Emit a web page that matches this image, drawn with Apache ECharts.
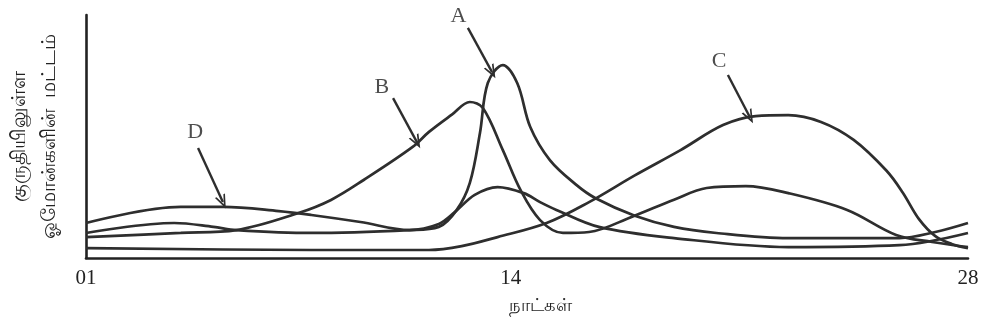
<!DOCTYPE html>
<html>
<head>
<meta charset="utf-8">
<script src="https://cdn.jsdelivr.net/npm/echarts@6/dist/echarts.min.js"></script>
<style>
  html, body { margin: 0; padding: 0; background: #fff; }
  #chart { width: 984px; height: 332px; }
</style>
</head>
<body>
<div id="chart"></div>
<script>
// 橫軸刻度 (日)
var tickDays = [1, 14, 28];
var tickLabels = ['01', '14', '28'];

// A 曲線
var daysA = [1, 3.7, 4.9, 5.6, 7.9, 10.9, 11.8, 12.35, 12.75, 13.06, 13.3, 13.76, 14.2, 14.6, 15.2, 16.0, 16.6, 17.8, 19.0, 20.3, 22.5, 25.9, 27.0, 28];
var levelA = [10.3, 14.4, 12.8, 11.5, 10.3, 11.5, 12.8, 19.8, 30.9, 51.4, 72, 79.4, 72, 53.9, 40.3, 30.2, 24.6, 17.4, 12.8, 10.3, 8.2, 8.2, 10.7, 14.4];

// B 曲線
var daysB = [1, 3.9, 5.6, 7.5, 8.5, 9.5, 11, 11.5, 12.2, 12.75, 13.15, 13.76, 14.3, 14.9, 15.6, 16.4, 17.7, 19, 20, 21.2, 22.5, 24.3, 25.8, 26.9, 28];
var levelB = [8.6, 10.3, 11.5, 18.5, 23.9, 32.1, 45.7, 51.9, 59, 64.2, 61.7, 44.4, 28, 15.6, 10.3, 10.7, 16.9, 24, 28.8, 29.6, 26.7, 19.8, 9.5, 6.6, 4.5];

// C 曲線
var daysC = [1, 7.9, 11.5, 12.5, 13.6, 15.1, 16.4, 17.8, 19.2, 20.5, 21.5, 22.5, 23.5, 24.5, 25.5, 26.0, 26.5, 27.0, 27.5, 28];
var levelC = [4.1, 3.3, 3.3, 4.9, 8.6, 14.4, 23, 34, 44.4, 54.7, 58.4, 58.8, 56, 48.6, 36, 27, 16, 9, 5.8, 4];

// D 曲線
var daysD = [1, 3.9, 5.2, 6.9, 7.9, 9.4, 10.9, 11.8, 12.3, 12.9, 13.6, 14.4, 14.9, 15.4, 16.7, 19, 22.5, 25.9, 28];
var levelD = [14.4, 21, 21, 19.3, 17.7, 14.8, 11.5, 14, 19, 26, 29.2, 26.7, 23, 19.8, 12.8, 8.2, 4.5, 5.3, 10.3];

// 字母標記與箭頭
var markNames = ['A', 'B', 'C', 'D'];
var markDays = [12.4, 10.06, 20.38, 4.34];
var markLevels = [99.4, 70.4, 81.1, 51.9];
var arrowFrom = [[12.69, 94.7], [10.4, 65.8], [20.65, 75.3], [4.43, 45.3]];
var arrowTo = [[13.43, 76.5], [11.13, 47.7], [21.32, 58], [5.19, 23]];

var lineColor = '#2e2e2e';
var serifFont = '"Liberation Serif", "DejaVu Serif", serif';

function zip(xs, ys) {
    return xs.map(function (x, i) { return [x, ys[i]]; });
}

function curve(name, xs, ys) {
    return {
        name: name,
        type: 'line',
        data: zip(xs, ys),
        smooth: 0.35,
        symbol: 'none',
        lineStyle: { color: lineColor, width: 2.7 },
        z: 3
    };
}

var chart = echarts.init(document.getElementById('chart'));

var option = {
    animation: false,
    backgroundColor: '#fff',
    grid: { left: 86, right: 16, top: 15, bottom: 74, outerBoundsMode: 'none', containLabel: false },
    xAxis: {
        type: 'value',
        min: 1,
        max: 28,
        interval: 1,
        name: 'நாட்கள்',
        nameLocation: 'middle',
        nameGap: 39,
        nameTextStyle: { color: '#222', fontSize: 18, padding: [0, 0, 0, 26] },
        axisLine: { lineStyle: { color: '#222', width: 2.6 } },
        axisTick: { show: false },
        splitLine: { show: false },
        axisLabel: {
            color: '#222',
            fontFamily: serifFont,
            fontSize: 21,
            margin: 10,
            showMinLabel: true,
            showMaxLabel: true,
            formatter: function (v) {
                var i = tickDays.indexOf(v);
                return i >= 0 ? tickLabels[i] : '';
            }
        }
    },
    yAxis: {
        type: 'value',
        min: 0,
        max: 100,
        name: 'குருதியிலுள்ள\nஓமோன்களின்  மட்டம்',
        nameLocation: 'middle',
        nameRotate: 90,
        nameGap: 22,
        nameTextStyle: { color: '#222', fontSize: 20, lineHeight: 30 },
        axisLine: { show: true, lineStyle: { color: '#222', width: 2.6 } },
        axisTick: { show: false },
        axisLabel: { show: false },
        splitLine: { show: false }
    },
    series: [
        curve('A', daysA, levelA),
        curve('B', daysB, levelB),
        curve('C', daysC, levelC),
        curve('D', daysD, levelD),
        {
            name: 'marks',
            type: 'scatter',
            symbolSize: 0,
            data: markNames.map(function (n, i) {
                return { name: n, value: [markDays[i], markLevels[i]] };
            }),
            label: {
                show: true,
                position: 'inside',
                formatter: '{b}',
                color: '#222',
                fontFamily: serifFont,
                fontSize: 22
            },
            markLine: {
                silent: true,
                symbol: ['none', 'path://M5,0 L10,10 L8.4,10 L5,3.4 L1.6,10 L0,10 Z'],
                symbolSize: [11, 14],
                lineStyle: { color: lineColor, width: 2.4, type: 'solid' },
                label: { show: false },
                data: arrowFrom.map(function (p, i) {
                    return [{ coord: p }, { coord: arrowTo[i] }];
                })
            }
        }
    ]
};

chart.setOption(option);
</script>
</body>
</html>
